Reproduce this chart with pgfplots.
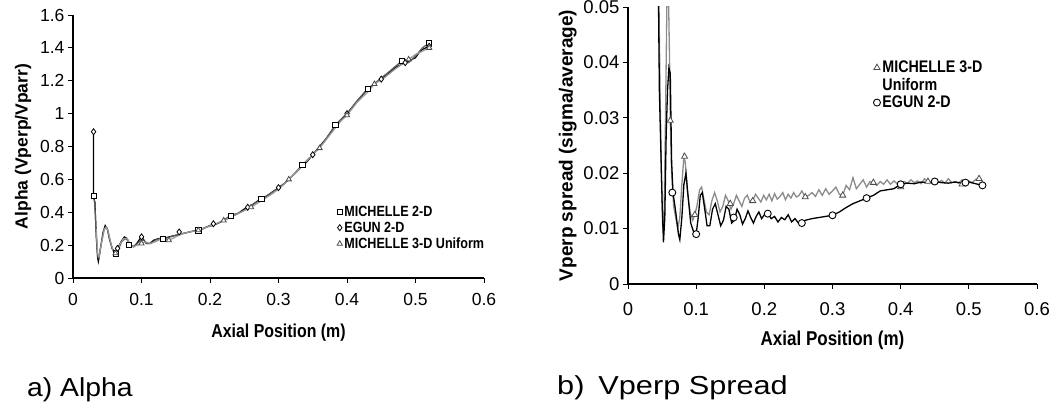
\documentclass[border=0pt]{standalone}
\usepackage{fontspec}
\setmainfont{Liberation Sans}
\newfontfamily\condb[FakeStretch=0.85]{Liberation Sans Bold}
\newfontfamily\boldf{Liberation Sans Bold}
\newfontfamily\capa[FakeStretch=1.09]{Liberation Sans}
\newfontfamily\capb[FakeStretch=1.18]{Liberation Sans}
\usepackage{pgfplots}
\pgfplotsset{compat=1.18}
\begin{document}
\begin{tikzpicture}
\useasboundingbox (0pt,0pt) rectangle (1062pt,406pt);
\pgfplotsset{
  common/.style={
    scale only axis,
    axis lines*=left,
    axis line style={-, black, line width=1.1pt},
    tick style={black, line width=0.9pt},
    tick align=outside,
    major tick length=5pt,
    xmin=0, xmax=0.6,
    xtick={0,0.1,0.2,0.3,0.4,0.5,0.6},
    /pgf/number format/assume math mode=true,
    /pgf/number format/fixed,
    /pgf/number format/precision=2,
    scaled ticks=false,
    clip=true,
    legend cell align=left,
    legend style={draw=none, fill=none, row sep=0pt},
  },
}
% ---------------- a) Alpha ----------------
\begin{axis}[common,
  at={(73pt,128pt)}, anchor=south west,
  width=411pt, height=263pt,
  ymin=0, ymax=1.6,
  ytick={0,0.2,0.4,0.6,0.8,1,1.2,1.4,1.6},
  ticklabel style={font=\fontsize{17.5}{20}\selectfont},
  xticklabel style={yshift=-7pt},
  xlabel={\condb\fontsize{18.7}{22}\selectfont Axial Position (m)},
  ylabel={\boldf\fontsize{17.5}{20}\selectfont Alpha (Vperp/Vparr)},
  xlabel style={yshift=-11pt},
  ylabel style={yshift=2pt},
  legend style={at={(0.635,0.29)}, anchor=north west, font=\condb\fontsize{14.8}{18.5}\selectfont},
]
% EGUN 2-D line
\addplot[black, line width=1.2pt, forget plot] coordinates {
(0.030,0.89)(0.030,0.50)(0.032,0.46)(0.034,0.25)(0.036,0.12)(0.037,0.10)(0.040,0.18)(0.044,0.28)(0.047,0.32)(0.050,0.30)(0.053,0.24)(0.057,0.18)(0.061,0.16)(0.065,0.18)(0.070,0.22)(0.075,0.25)(0.079,0.24)(0.083,0.20)(0.088,0.19)(0.093,0.21)(0.098,0.24)(0.102,0.24)(0.107,0.21)(0.112,0.21)(0.118,0.23)(0.125,0.24)(0.132,0.24)(0.140,0.25)(0.150,0.26)(0.160,0.27)(0.170,0.28)(0.180,0.29)(0.190,0.30)(0.200,0.32)(0.210,0.33)(0.220,0.35)(0.230,0.37)(0.240,0.39)(0.250,0.42)(0.260,0.44)(0.270,0.47)(0.280,0.49)(0.290,0.52)(0.300,0.55)(0.310,0.58)(0.320,0.62)(0.330,0.66)(0.340,0.70)(0.350,0.75)(0.360,0.80)(0.370,0.85)(0.380,0.91)(0.390,0.96)(0.400,1.00)(0.410,1.05)(0.420,1.10)(0.430,1.15)(0.440,1.18)(0.450,1.21)(0.460,1.24)(0.470,1.28)(0.480,1.30)(0.490,1.32)(0.500,1.34)(0.505,1.37)(0.510,1.39)(0.515,1.40)(0.520,1.41)
};
% MICHELLE 2-D line
\addplot[black!65, line width=1.2pt, forget plot] coordinates {
(0.030,0.50)(0.032,0.44)(0.034,0.26)(0.036,0.13)(0.038,0.12)(0.041,0.20)(0.045,0.29)(0.048,0.31)(0.051,0.29)(0.054,0.23)(0.058,0.17)(0.062,0.15)(0.066,0.17)(0.071,0.22)(0.076,0.24)(0.080,0.23)(0.084,0.20)(0.089,0.19)(0.094,0.21)(0.099,0.23)(0.103,0.23)(0.108,0.21)(0.114,0.21)(0.120,0.23)(0.127,0.24)(0.134,0.24)(0.142,0.25)(0.150,0.26)(0.160,0.27)(0.170,0.28)(0.183,0.29)(0.195,0.31)(0.205,0.32)(0.215,0.34)(0.230,0.38)(0.245,0.40)(0.260,0.44)(0.275,0.48)(0.290,0.52)(0.305,0.56)(0.320,0.62)(0.335,0.69)(0.350,0.75)(0.365,0.82)(0.383,0.93)(0.400,1.00)(0.415,1.08)(0.430,1.15)(0.445,1.20)(0.460,1.25)(0.480,1.32)(0.490,1.31)(0.500,1.35)(0.510,1.40)(0.520,1.43)
};
% MICHELLE 3-D line
\addplot[black!40, line width=1.2pt, forget plot] coordinates {
(0.034,0.30)(0.036,0.15)(0.038,0.13)(0.042,0.22)(0.046,0.30)(0.049,0.31)(0.052,0.27)(0.056,0.20)(0.060,0.15)(0.064,0.16)(0.069,0.21)(0.074,0.24)(0.079,0.24)(0.083,0.21)(0.088,0.19)(0.094,0.20)(0.100,0.21)(0.106,0.22)(0.112,0.21)(0.120,0.22)(0.130,0.24)(0.140,0.23)(0.150,0.25)(0.160,0.27)(0.170,0.28)(0.183,0.29)(0.195,0.31)(0.208,0.33)(0.220,0.35)(0.235,0.38)(0.250,0.41)(0.260,0.43)(0.275,0.47)(0.290,0.51)(0.300,0.54)(0.315,0.60)(0.330,0.66)(0.345,0.73)(0.360,0.79)(0.375,0.87)(0.390,0.95)(0.400,0.99)(0.415,1.07)(0.430,1.13)(0.440,1.18)(0.455,1.22)(0.470,1.27)(0.490,1.33)(0.500,1.36)(0.510,1.38)(0.520,1.40)
};
\addplot[only marks, mark=square*, mark size=2.6pt, black, fill=white, line width=0.8pt] coordinates {
(0.030,0.50)(0.063,0.15)(0.082,0.20)(0.131,0.24)(0.183,0.29)(0.230,0.38)(0.275,0.48)(0.335,0.69)(0.383,0.93)(0.430,1.15)(0.480,1.32)(0.520,1.43)
};
\addlegendentry{MICHELLE 2-D}
\addplot[only marks, mark=diamond*, mark size=3pt, black, fill=white, line width=0.8pt] coordinates {
(0.030,0.89)(0.065,0.18)(0.100,0.25)(0.155,0.28)(0.205,0.33)(0.255,0.43)(0.300,0.55)(0.350,0.75)(0.400,1.00)(0.450,1.21)(0.485,1.31)(0.520,1.41)
};
\addlegendentry{EGUN 2-D}
\addplot[only marks, mark=triangle*, mark size=3pt, black!70, fill=white, line width=0.8pt] coordinates {
(0.062,0.15)(0.100,0.21)(0.140,0.23)(0.183,0.29)(0.220,0.35)(0.260,0.43)(0.315,0.60)(0.360,0.79)(0.400,0.99)(0.440,1.18)(0.490,1.33)(0.520,1.40)
};
\addlegendentry{MICHELLE 3-D Uniform}
\end{axis}
% ---------------- b) Vperp Spread ----------------
\begin{axis}[common,
  at={(628pt,122pt)}, anchor=south west,
  width=409pt, height=277pt,
  ymin=0, ymax=0.05,
  ytick={0,0.01,0.02,0.03,0.04,0.05},
  yticklabels={0,0.01,0.02,0.03,0.04,0.05},
  ticklabel style={font=\fontsize{18.5}{22}\selectfont},
  xticklabel style={yshift=-10pt},
  xlabel={\condb\fontsize{20}{24}\selectfont Axial Position (m)},
  ylabel={\boldf\fontsize{19}{22}\selectfont Vperp spread (sigma/average)},
  xlabel style={yshift=-9pt},
  legend style={at={(0.58,0.82)}, anchor=north west, font=\condb\fontsize{16.8}{18.5}\selectfont},
]
\addplot[black!45, line width=1.3pt, forget plot] coordinates {
(0.045,0.055)(0.047,0.035)(0.049,0.020)(0.051,0.010)(0.053,0.013)(0.055,0.030)(0.057,0.050)(0.059,0.055)(0.061,0.040)(0.062,0.0295)(0.064,0.020)(0.067,0.014)(0.070,0.012)(0.073,0.010)(0.076,0.012)(0.079,0.018)(0.082,0.023)(0.084,0.022)(0.087,0.017)(0.091,0.013)(0.095,0.0115)(0.098,0.0125)(0.101,0.0140)(0.105,0.0170)(0.108,0.0175)(0.111,0.0155)(0.115,0.0130)(0.119,0.0125)(0.123,0.0150)(0.127,0.0165)(0.131,0.0150)(0.135,0.0130)(0.139,0.0140)(0.143,0.0160)(0.147,0.0150)(0.151,0.0135)(0.155,0.0145)(0.159,0.0160)(0.163,0.0150)(0.167,0.0140)(0.171,0.0155)(0.175,0.0160)(0.179,0.0148)(0.183,0.0150)(0.187,0.0162)(0.191,0.0155)(0.195,0.0148)(0.199,0.0160)(0.203,0.0152)(0.207,0.0162)(0.211,0.0150)(0.215,0.0163)(0.219,0.0153)(0.223,0.0158)(0.227,0.0165)(0.231,0.0152)(0.235,0.0162)(0.239,0.0155)(0.243,0.0165)(0.247,0.0157)(0.251,0.0160)(0.255,0.0168)(0.260,0.0157)(0.265,0.0160)(0.270,0.0165)(0.275,0.0158)(0.280,0.0170)(0.285,0.0160)(0.290,0.0172)(0.295,0.0162)(0.300,0.0168)(0.305,0.0175)(0.310,0.0162)(0.315,0.0160)(0.320,0.0178)(0.325,0.0170)(0.330,0.0192)(0.335,0.0172)(0.340,0.0180)(0.345,0.0188)(0.350,0.0175)(0.355,0.0185)(0.360,0.0183)(0.365,0.0178)(0.370,0.0185)(0.375,0.0180)(0.380,0.0188)(0.385,0.0180)(0.390,0.0186)(0.395,0.0181)(0.400,0.0175)(0.405,0.0185)(0.410,0.0182)(0.415,0.0188)(0.420,0.0183)(0.425,0.0186)(0.430,0.0181)(0.435,0.0190)(0.440,0.0185)(0.445,0.0182)(0.450,0.0188)(0.455,0.0183)(0.460,0.0187)(0.465,0.0182)(0.470,0.0190)(0.475,0.0183)(0.480,0.0185)(0.485,0.0182)(0.490,0.0188)(0.495,0.0180)(0.500,0.0186)(0.505,0.0183)(0.510,0.0189)(0.515,0.0190)(0.520,0.0185)
};
\addplot[black, line width=1.3pt, forget plot] coordinates {
(0.044,0.060)(0.046,0.035)(0.048,0.025)(0.050,0.015)(0.052,0.0075)(0.054,0.012)(0.056,0.027)(0.058,0.035)(0.060,0.039)(0.062,0.038)(0.064,0.022)(0.066,0.0165)(0.070,0.013)(0.074,0.009)(0.076,0.008)(0.079,0.012)(0.082,0.018)(0.085,0.020)(0.088,0.016)(0.092,0.011)(0.096,0.0095)(0.100,0.009)(0.103,0.012)(0.106,0.016)(0.109,0.0165)(0.112,0.014)(0.116,0.0105)(0.120,0.0105)(0.124,0.0135)(0.128,0.0145)(0.132,0.0125)(0.136,0.0105)(0.140,0.0115)(0.144,0.0140)(0.148,0.0135)(0.152,0.0110)(0.156,0.0115)(0.160,0.0135)(0.164,0.0125)(0.168,0.0108)(0.172,0.0118)(0.176,0.0132)(0.180,0.0120)(0.184,0.0110)(0.188,0.0122)(0.192,0.0130)(0.196,0.0118)(0.200,0.0125)(0.205,0.0127)(0.210,0.0118)(0.215,0.0122)(0.220,0.0112)(0.225,0.0120)(0.230,0.0116)(0.235,0.0125)(0.240,0.0112)(0.245,0.0118)(0.250,0.0110)(0.255,0.0110)(0.260,0.0115)(0.270,0.0118)(0.280,0.0120)(0.290,0.0122)(0.300,0.0124)(0.310,0.0130)(0.320,0.0138)(0.330,0.0145)(0.340,0.0150)(0.350,0.0155)(0.360,0.0160)(0.370,0.0168)(0.380,0.0170)(0.390,0.0172)(0.400,0.0180)(0.410,0.0182)(0.420,0.0181)(0.430,0.0184)(0.440,0.0183)(0.450,0.0185)(0.460,0.0183)(0.470,0.0182)(0.480,0.0184)(0.490,0.0182)(0.500,0.0184)(0.510,0.0181)(0.520,0.0178)
};
\addplot[only marks, mark=triangle*, mark size=3.5pt, black!70, fill=white, line width=0.8pt] coordinates {
(0.062,0.0295)(0.083,0.023)(0.098,0.0125)(0.150,0.0145)(0.183,0.0150)(0.260,0.0157)(0.315,0.0160)(0.360,0.0183)(0.400,0.0175)(0.440,0.0185)(0.490,0.0180)(0.515,0.0190)
};
\addlegendentry{MICHELLE 3-D}
\addlegendimage{empty legend}
\addlegendentry{Uniform}
\addplot[only marks, mark=*, mark size=3.5pt, black, fill=white, line width=0.9pt] coordinates {
(0.065,0.0165)(0.100,0.0090)(0.155,0.0120)(0.205,0.0127)(0.255,0.0110)(0.300,0.0124)(0.350,0.0155)(0.400,0.0180)(0.450,0.0185)(0.495,0.0183)(0.520,0.0178)
};
\addlegendentry{EGUN 2-D}
\end{axis}
% captions
\node[anchor=base west, inner sep=0, font=\capa\fontsize{26}{30}\selectfont] at (27pt,9pt) {a) Alpha};
\node[anchor=base west, inner sep=0, font=\capb\fontsize{26}{30}\selectfont] at (557pt,11pt) {b)\hspace{14pt}Vperp Spread};
\end{tikzpicture}
\end{document}
